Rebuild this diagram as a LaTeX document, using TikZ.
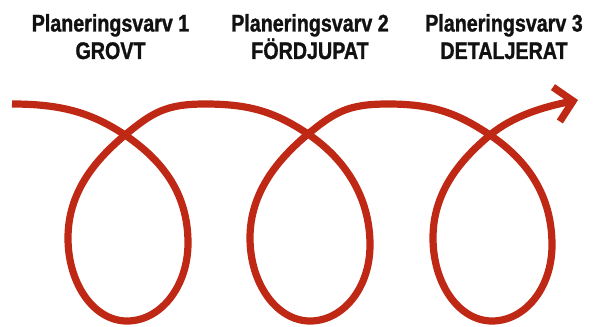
\documentclass[tikz,border=0pt]{standalone}
\usepackage{fontspec}
\setmainfont{Liberation Sans}[FakeStretch=0.82, BoldFeatures={FakeBold=1.2}]
\usetikzlibrary{arrows.meta}
\definecolor{spiralred}{RGB}{192,40,22}
\definecolor{titleblack}{RGB}{17,17,17}
\tikzset{
  titletext/.style={font=\fontsize{24pt}{27pt}\selectfont\bfseries, text=titleblack, anchor=base, inner sep=0pt},
  spiral/.style={draw=spiralred, line width=7.2pt, line cap=butt, line join=round,
    -{Straight Barb[length=17pt,width=35pt,line cap=butt,line join=miter]}}
}
\begin{document}
\begin{tikzpicture}[x=1pt,y=-1pt]
\useasboundingbox (0,0) rectangle (593,326);
% titles
\node[titletext] (t1a) at (110.5,31.5) {Planeringsvarv 1};
\node[titletext] (t1b) at (110.5,59) {GROVT};
\node[titletext] (t2a) at (310,31.5) {Planeringsvarv 2};
\node[titletext] (t2b) at (310,59) {FÖRDJUPAT};
\node[titletext] (t3a) at (504,31.5) {Planeringsvarv 3};
\node[titletext] (t3b) at (504,59) {DETALJERAT};
% key points of the spiral
\coordinate (s0) at (12,104);
\coordinate (x1) at (125,135);
\coordinate (x2) at (308,134);
\coordinate (x3) at (490,135);
\coordinate (e) at (578,100);
% spiral path
\path[spiral] (s0)
  .. controls (62,104) and (92,113) .. (x1)
  .. controls (162,160) and (188,193) .. (188,243)
  .. controls (188,286) and (161,321) .. (127,321)
  .. controls (94,321) and (68,284) .. (68,238)
  .. controls (68,193) and (94,161) .. (x1)
  .. controls (152,113) and (165,104) .. (205,104)
  .. controls (250,104) and (275,112) .. (x2)
  .. controls (345,159) and (370,197) .. (370,245)
  .. controls (370,288) and (343,321) .. (310,321)
  .. controls (277,321) and (250,284) .. (250,238)
  .. controls (250,193) and (277,160) .. (x2)
  .. controls (335,112) and (348,104) .. (388,104)
  .. controls (433,104) and (457,113) .. (x3)
  .. controls (527,160) and (552,195) .. (552,245)
  .. controls (552,288) and (525,321) .. (492,321)
  .. controls (459,321) and (433,284) .. (433,238)
  .. controls (433,193) and (459,161) .. (x3)
  .. controls (513,116) and (543,107) .. (e);
\end{tikzpicture}
\end{document}
